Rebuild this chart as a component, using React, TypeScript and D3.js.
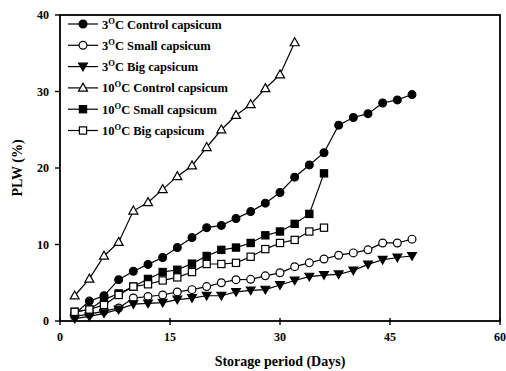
import React from "react";
import * as d3 from "d3";

const days3 = [2,4,6,8,10,12,14,16,18,20,22,24,26,28,30,32,34,36,38,40,42,44,46,48];
const days10c = [2,4,6,8,10,12,14,16,18,20,22,24,26,28,30,32];
const days10 = [2,4,6,8,10,12,14,16,18,20,22,24,26,28,30,32,34,36];

const c3Control = [0.9,2.6,3.3,5.4,6.5,7.4,8.3,9.6,10.9,12.2,12.5,13.4,14.3,15.4,16.8,18.8,20.4,22.0,25.6,26.6,27.1,28.5,28.9,29.6];
const c3Small = [0.6,0.9,1.3,1.7,3.0,3.2,3.4,3.8,4.1,4.5,5.0,5.4,5.45,5.9,6.3,7.1,7.6,8.1,8.6,8.9,9.3,10.2,10.2,10.7];
const c3Big = [0.3,0.6,1.0,1.5,2.2,2.3,2.4,2.8,3.0,3.3,3.3,3.8,4.0,4.1,4.7,5.3,5.8,6.0,6.1,6.6,7.4,8.0,8.3,8.5];
const c10Control = [3.3,5.5,8.5,10.3,14.4,15.5,17.2,18.9,20.3,22.7,25.0,26.9,28.3,30.4,32.2,36.4];
const c10Small = [1.2,1.5,2.8,3.6,4.5,5.5,6.4,6.7,7.5,8.5,9.3,9.6,10.2,11.2,11.7,12.7,14.0,19.3];
const c10Big = [1.2,1.5,2.1,3.4,4.5,4.8,5.3,5.7,6.4,7.45,7.45,7.6,8.4,9.4,10.2,10.6,11.7,12.2];

const xTicks = [0,15,30,45,60];
const yTicks = [0,10,20,30,40];

type Sym = "circleF" | "circleO" | "triDownF" | "triUpO" | "squareF" | "squareO";
const series: { temp: string; label: string; days: number[]; vals: number[]; sym: Sym }[] = [
  { temp: "3", label: "C Control capsicum", days: days3, vals: c3Control, sym: "circleF" },
  { temp: "3", label: "C Small capsicum", days: days3, vals: c3Small, sym: "circleO" },
  { temp: "3", label: "C Big capsicum", days: days3, vals: c3Big, sym: "triDownF" },
  { temp: "10", label: "C Control capsicum", days: days10c, vals: c10Control, sym: "triUpO" },
  { temp: "10", label: "C Small capsicum", days: days10, vals: c10Small, sym: "squareF" },
  { temp: "10", label: "C Big capsicum", days: days10, vals: c10Big, sym: "squareO" },
];

const L = 60, R = 500, T = 15, B = 321;
const x = d3.scaleLinear().domain([0, 60]).range([L, R]);
const y = d3.scaleLinear().domain([0, 40]).range([B, T]);
const font = "'Liberation Serif', 'Times New Roman', serif";

function Marker({ cx, cy, sym }: { cx: number; cy: number; sym: Sym }) {
  const filled = sym.endsWith("F");
  const fill = filled ? "#000" : "#fff";
  const sw = 1.2;
  if (sym.startsWith("circle")) return <circle cx={cx} cy={cy} r={3.9} fill={fill} stroke="#000" strokeWidth={sw} />;
  if (sym.startsWith("square")) return <rect x={cx - 3.6} y={cy - 3.6} width={7.2} height={7.2} fill={fill} stroke="#000" strokeWidth={sw} />;
  if (sym === "triUpO") return <path d={`M${cx},${cy - 4.8}L${cx + 4.5},${cy + 3.2}L${cx - 4.5},${cy + 3.2}Z`} fill={fill} stroke="#000" strokeWidth={sw} />;
  return <path d={`M${cx},${cy + 4.2}L${cx + 4.4},${cy - 3.4}L${cx - 4.4},${cy - 3.4}Z`} fill={fill} stroke="#000" strokeWidth={sw} />;
}

export default function App() {
  const line = d3.line<[number, number]>().x(d => x(d[0])).y(d => y(d[1]));
  return (
    <svg width={506} height={371} style={{ position: "absolute", left: 0, top: 0, background: "#fff" }} fontFamily={font}>
      <rect x={0} y={0} width={506} height={371} fill="#fff" />
      <rect x={L} y={T} width={R - L} height={B - T} fill="none" stroke="#000" strokeWidth={1.8} />
      {yTicks.map(t => (
        <g key={"y" + t}>
          <line x1={L - 5} x2={L} y1={y(t)} y2={y(t)} stroke="#000" strokeWidth={1.4} />
          <text x={L - 11} y={y(t)} dy="0.35em" textAnchor="end" fontSize={12} fontWeight="bold">{t}</text>
        </g>
      ))}
      {xTicks.map(t => (
        <g key={"x" + t}>
          <line x1={x(t)} x2={x(t)} y1={B - 3} y2={B + 4} stroke="#000" strokeWidth={1.4} />
          <text x={x(t)} y={341} textAnchor="middle" fontSize={12} fontWeight="bold">{t}</text>
        </g>
      ))}
      <text x={280} y={366} textAnchor="middle" fontSize={14} fontWeight="bold">Storage period (Days)</text>
      <text transform={`translate(22,168) rotate(-90)`} textAnchor="middle" fontSize={14} fontWeight="bold">PLW (%)</text>
      {series.map((s, i) => {
        const pts: [number, number][] = s.days.map((d, j) => [d, s.vals[j]]);
        return (
          <g key={i}>
            <path d={line(pts) || ""} fill="none" stroke="#000" strokeWidth={1.2} />
            {pts.map((p, j) => <Marker key={j} cx={x(p[0])} cy={y(p[1])} sym={s.sym} />)}
          </g>
        );
      })}
      {series.map((s, i) => {
        const ly = 24 + i * 21.3;
        return (
          <g key={"lg" + i}>
            <line x1={68} x2={98} y1={ly} y2={ly} stroke="#000" strokeWidth={1.2} />
            <Marker cx={83} cy={ly} sym={s.sym} />
            <text x={102} y={ly + 4.5} fontSize={12.5} fontWeight="bold">
              {s.temp}
              <tspan fontSize={8.5} dy={-5}>O</tspan>
              <tspan dy={5}>{s.label}</tspan>
            </text>
          </g>
        );
      })}
    </svg>
  );
}
